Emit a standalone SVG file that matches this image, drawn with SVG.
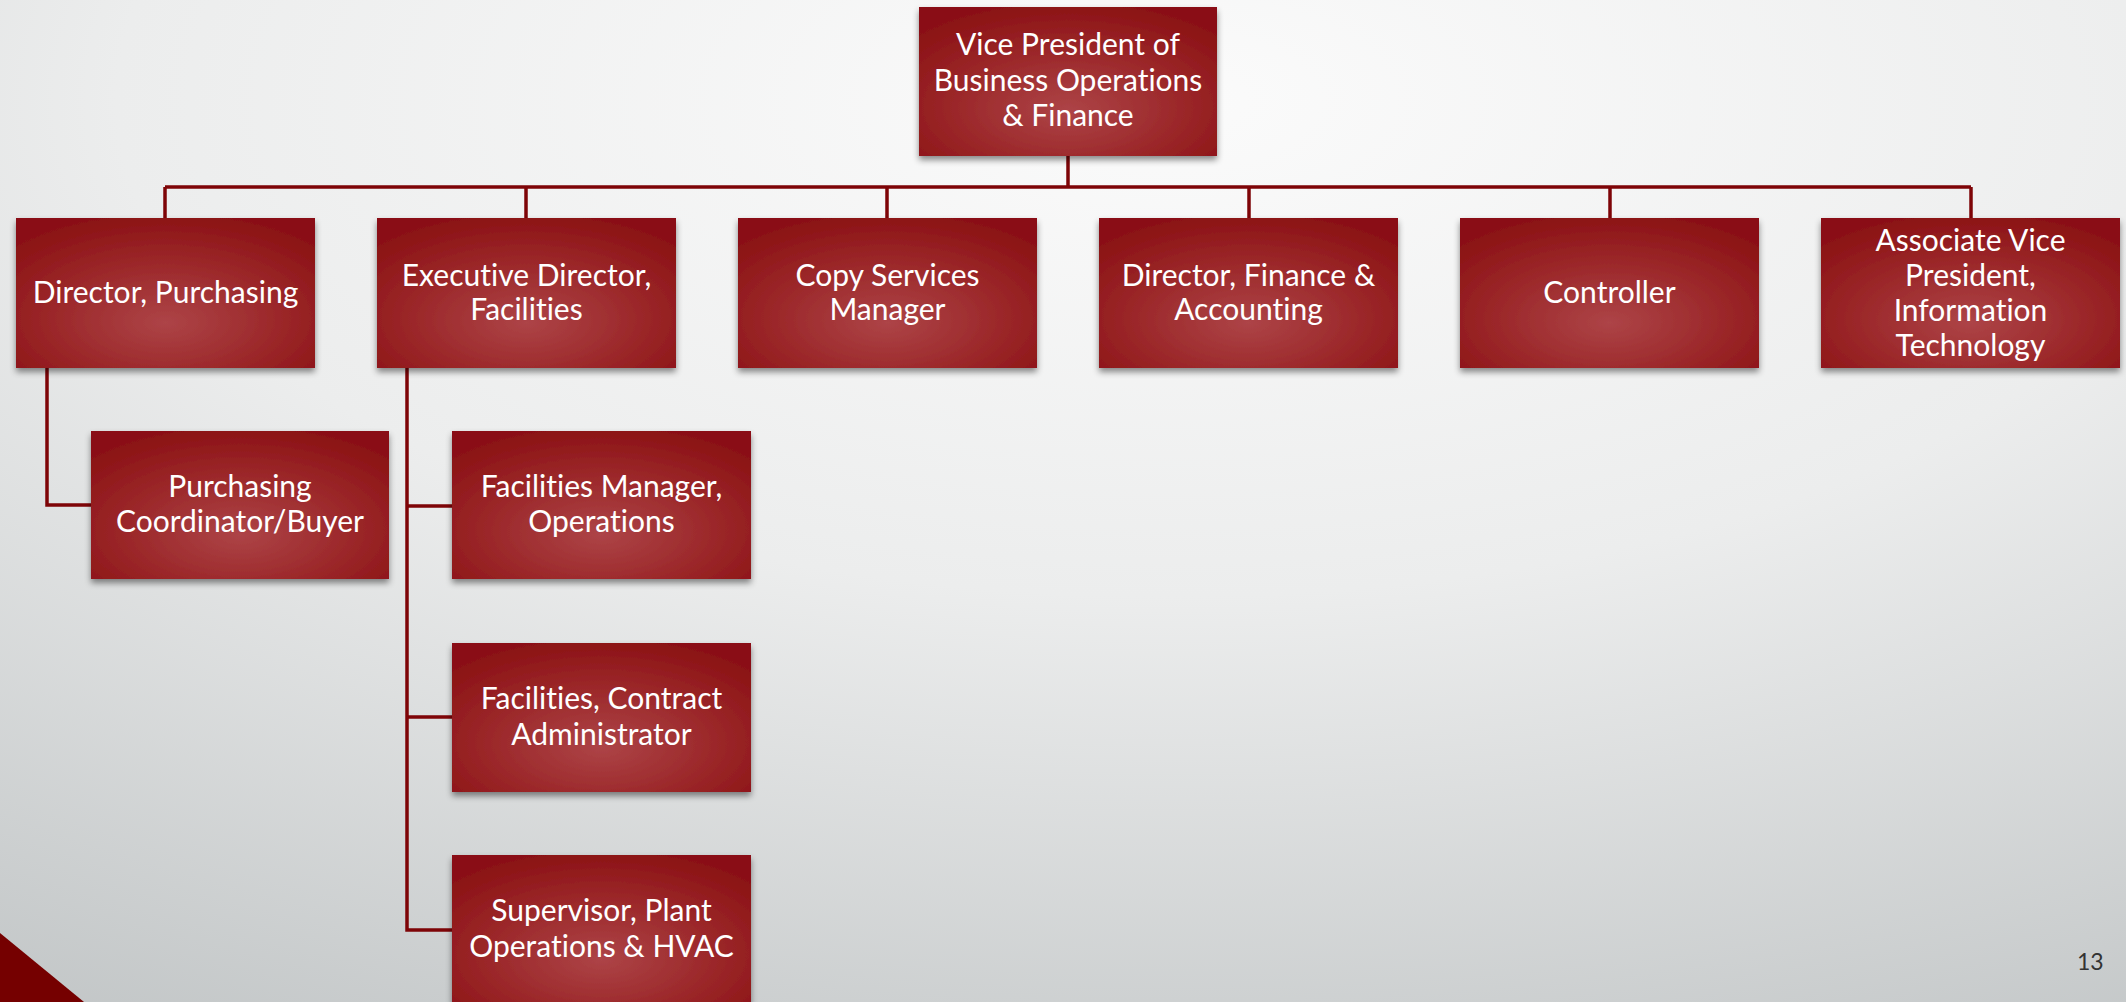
<svg xmlns="http://www.w3.org/2000/svg" width="2126" height="1002" viewBox="0 0 2126 1002">
<defs>
<radialGradient id="bg" cx="0.55" cy="0.1" r="1.1">
<stop offset="0" stop-color="#fbfbfb"/>
<stop offset="0.45" stop-color="#eceded"/>
<stop offset="1" stop-color="#bfc3c4"/>
</radialGradient>
<radialGradient id="box" cx="0.5" cy="0.65" r="0.7" fx="0.5" fy="0.7">
<stop offset="0" stop-color="#ad4447"/>
<stop offset="0.55" stop-color="#9b2729"/>
<stop offset="1" stop-color="#8a1013"/>
</radialGradient>
<filter id="sh" x="-10%" y="-10%" width="120%" height="130%">
<feDropShadow dx="0" dy="4" stdDeviation="3" flood-color="#000" flood-opacity="0.45"/>
</filter>
</defs>
<style>
.b{fill:url(#box);filter:url(#sh)}
.t{font-family:Lato,"Open Sans",sans-serif;font-size:30px;fill:#fff;text-anchor:middle;font-variant-ligatures:none;font-feature-settings:"liga" 0}
.c{fill:none;stroke:#7e0407;stroke-width:3.5}
</style>
<rect width="2126" height="1002" fill="url(#bg)"/>
<polygon points="0,933 84,1002 0,1002" fill="#750000"/>
<text x="2077" y="970" font-family="Lato,sans-serif" font-size="23" fill="#333">13</text>

<g id="connectors">
<path class="c" d="M1068,156 V187 M165,187 H1971 M165,187 V218 M526,187 V218 M887,187 V218 M1249,187 V218 M1610,187 V218 M1971,187 V218"/>
<path class="c" d="M47,368 V505 H91"/>
<path class="c" d="M407,368 V930 H452 M407,506 H452 M407,717 H452"/>
</g>

<g id="vp">
<rect class="b" x="919" y="7" width="298" height="149"/>
<text class="t"><tspan x="1068" y="55">Vice President of</tspan><tspan x="1068" y="91">Business Operations</tspan><tspan x="1068" y="126">&amp; Finance</tspan></text>
</g>
<g id="dir-purchasing">
<rect class="b" x="16" y="218" width="299" height="150"/>
<text class="t" x="165.5" y="303">Director, Purchasing</text>
</g>
<g id="exec-dir-facilities">
<rect class="b" x="377" y="218" width="299" height="150"/>
<text class="t"><tspan x="526.5" y="286">Executive Director,</tspan><tspan x="526.5" y="320">Facilities</tspan></text>
</g>
<g id="copy-services">
<rect class="b" x="738" y="218" width="299" height="150"/>
<text class="t"><tspan x="887.5" y="286">Copy Services</tspan><tspan x="887.5" y="320">Manager</tspan></text>
</g>
<g id="dir-finance">
<rect class="b" x="1099" y="218" width="299" height="150"/>
<text class="t"><tspan x="1248.5" y="286">Director, Finance &amp;</tspan><tspan x="1248.5" y="320">Accounting</tspan></text>
</g>
<g id="controller">
<rect class="b" x="1460" y="218" width="299" height="150"/>
<text class="t" x="1609.5" y="303">Controller</text>
</g>
<g id="avp-it">
<rect class="b" x="1821" y="218" width="299" height="150"/>
<text class="t"><tspan x="1970.5" y="251">Associate Vice</tspan><tspan x="1970.5" y="286">President,</tspan><tspan x="1970.5" y="321">Information</tspan><tspan x="1970.5" y="356">Technology</tspan></text>
</g>
<g id="purchasing-coord">
<rect class="b" x="91" y="431" width="298" height="148"/>
<text class="t"><tspan x="240" y="497">Purchasing</tspan><tspan x="240" y="532">Coordinator/Buyer</tspan></text>
</g>
<g id="fac-manager">
<rect class="b" x="452" y="431" width="299" height="148"/>
<text class="t"><tspan x="601.5" y="497">Facilities Manager,</tspan><tspan x="601.5" y="532">Operations</tspan></text>
</g>
<g id="fac-contract">
<rect class="b" x="452" y="643" width="299" height="149"/>
<text class="t"><tspan x="601.5" y="709">Facilities, Contract</tspan><tspan x="601.5" y="745">Administrator</tspan></text>
</g>
<g id="supervisor">
<rect class="b" x="452" y="855" width="299" height="149"/>
<text class="t"><tspan x="601.5" y="921">Supervisor, Plant</tspan><tspan x="601.5" y="957">Operations &amp; HVAC</tspan></text>
</g>
</svg>
